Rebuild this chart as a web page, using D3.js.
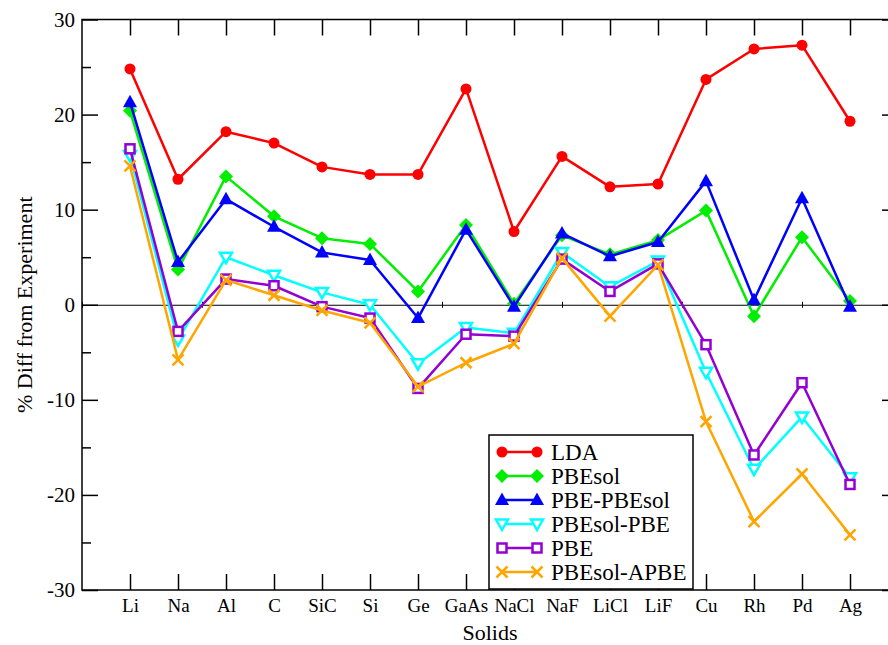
<!DOCTYPE html>
<html>
<head>
<meta charset="utf-8">
<script src="https://cdn.jsdelivr.net/npm/d3@7"></script>
<style>
  body { margin: 0; background: #fff; }
  text { font-family: "Liberation Serif", "Times New Roman", serif; }
</style>
</head>
<body>
<div id="chart"></div>
<script>
var solids = ['Li','Na','Al','C','SiC','Si','Ge','GaAs','NaCl','NaF','LiCl','LiF','Cu','Rh','Pd','Ag'];

var lda       = [24.8, 13.2, 18.2, 17.0, 14.5, 13.7, 13.7, 22.7, 7.7, 15.6, 12.4, 12.7, 23.7, 26.9, 27.3, 19.3];
var pbesol    = [20.4, 3.7, 13.5, 9.3, 7.0, 6.4, 1.4, 8.4, 0.1, 7.3, 5.3, 6.8, 9.9, -1.2, 7.1, 0.4];
var pbePbesol = [21.3, 4.5, 11.1, 8.2, 5.5, 4.7, -1.4, 7.9, -0.2, 7.5, 5.1, 6.6, 13.0, 0.5, 11.2, -0.2];
var pbesolPbe = [15.7, -3.7, 5.0, 3.1, 1.3, 0.0, -6.2, -2.4, -3.0, 5.5, 1.9, 4.6, -7.1, -17.3, -11.8, -18.2];
var pbe       = [16.4, -2.8, 2.7, 2.0, -0.2, -1.4, -8.8, -3.1, -3.3, 4.8, 1.4, 4.3, -4.2, -15.8, -8.2, -18.9];
var pbesolApbe= [14.6, -5.8, 2.6, 1.0, -0.6, -1.9, -8.6, -6.1, -4.1, 4.9, -1.2, 4.2, -12.3, -22.8, -17.8, -24.2];

var seriesNames = ['LDA','PBEsol','PBE-PBEsol','PBEsol-PBE','PBE','PBEsol-APBE'];
var seriesData = [lda, pbesol, pbePbesol, pbesolPbe, pbe, pbesolApbe];
var colors = ['#ff0000','#00ee00','#0000ff','#00ffff','#9400d3','#ffa500'];
var markers = ['circle','diamond','triup','tridown','square','cross'];

var yTicks = [-30,-20,-10,0,10,20,30];
var yMinor = [-25,-15,-5,5,15,25];

var width = 888, height = 645;

var xScale = d3.scaleLinear().domain([-1, 16]).range([82, 898]);
var yScale = d3.scaleLinear().domain([-30, 30]).range([590, 19.5]);

var svg = d3.select('#chart').append('svg')
    .attr('width', width)
    .attr('height', height)
    .style('background', '#fff');

// frame
svg.append('rect')
    .attr('x', xScale(-1)).attr('y', yScale(30))
    .attr('width', xScale(16) - xScale(-1))
    .attr('height', yScale(-30) - yScale(30))
    .attr('fill', 'none').attr('stroke', '#000').attr('stroke-width', 1.5);

// zero line with its small ticks
var zeroAxis = svg.append('g')
    .attr('transform', 'translate(0,' + yScale(0) + ')')
    .call(d3.axisBottom(xScale).tickValues(d3.range(-1, 16.1, 2.5)).tickSize(3).tickFormat(''));
zeroAxis.select('.domain').attr('stroke-width', 1.2);
zeroAxis.selectAll('.tick line').attr('y1', -3).attr('y2', 3);

// bottom axis
var xAxis = svg.append('g')
    .attr('transform', 'translate(0,' + yScale(-30) + ')')
    .call(d3.axisBottom(xScale).tickValues(d3.range(solids.length))
      .tickFormat(function(i){ return solids[i]; })
      .tickSize(-16).tickPadding(9));
xAxis.select('.domain').remove();
xAxis.selectAll('.tick line').attr('stroke-width', 1.5);
xAxis.selectAll('text').style('font-size', '19px').attr('fill', '#000');

// top axis
var topAxis = svg.append('g')
    .attr('transform', 'translate(0,' + yScale(30) + ')')
    .call(d3.axisTop(xScale).tickValues(d3.range(solids.length)).tickSize(-16).tickFormat(''));
topAxis.select('.domain').remove();
topAxis.selectAll('.tick line').attr('stroke-width', 1.5);

// left axis (plain hyphen for negatives, like the original)
var yAxis = svg.append('g')
    .attr('transform', 'translate(' + xScale(-1) + ',0)')
    .call(d3.axisLeft(yScale).tickValues(yTicks).tickSize(-16).tickPadding(7)
      .tickFormat(function(d){ return String(d); }));
yAxis.select('.domain').remove();
yAxis.selectAll('.tick line').attr('stroke-width', 1.5);
yAxis.selectAll('text').style('font-size', '21px').attr('fill', '#000');

var yAxisMinor = svg.append('g')
    .attr('transform', 'translate(' + xScale(-1) + ',0)')
    .call(d3.axisLeft(yScale).tickValues(yMinor).tickSize(-9).tickFormat(''));
yAxisMinor.select('.domain').remove();
yAxisMinor.selectAll('.tick line').attr('stroke-width', 1.5);

// right axis (mostly off the picture)
var rAxis = svg.append('g')
    .attr('transform', 'translate(' + xScale(16) + ',0)')
    .call(d3.axisRight(yScale).tickValues(yTicks).tickSize(-16).tickFormat(''));
rAxis.select('.domain').remove();
rAxis.selectAll('.tick line').attr('stroke-width', 1.5);

// axis titles
svg.append('text')
    .attr('text-anchor', 'middle')
    .attr('transform', 'translate(32,' + yScale(0) + ')rotate(-90)')
    .style('font-size', '22px')
    .text('% Diff from Experiment');

svg.append('text')
    .attr('text-anchor', 'middle')
    .attr('x', 490).attr('y', 640)
    .style('font-size', '22px')
    .text('Solids');

function drawMarker(g, type, color, cx, cy) {
  if (type == 'circle') {
    g.append('circle').attr('cx', cx).attr('cy', cy).attr('r', 5.5).attr('fill', color);
  } else if (type == 'diamond') {
    g.append('path').attr('d', 'M' + cx + ',' + (cy - 7) + 'L' + (cx + 7) + ',' + cy + 'L' + cx + ',' + (cy + 7) + 'L' + (cx - 7) + ',' + cy + 'Z')
      .attr('fill', color);
  } else if (type == 'triup') {
    g.append('path').attr('d', 'M' + cx + ',' + (cy - 7.5) + 'L' + (cx + 7) + ',' + (cy + 5) + 'L' + (cx - 7) + ',' + (cy + 5) + 'Z')
      .attr('fill', color);
  } else if (type == 'tridown') {
    g.append('path').attr('d', 'M' + cx + ',' + (cy + 6) + 'L' + (cx + 6) + ',' + (cy - 4.5) + 'L' + (cx - 6) + ',' + (cy - 4.5) + 'Z')
      .attr('fill', '#fff').attr('stroke', color).attr('stroke-width', 2.5);
  } else if (type == 'square') {
    g.append('rect').attr('x', cx - 4.5).attr('y', cy - 4.5).attr('width', 9).attr('height', 9)
      .attr('fill', '#fff').attr('stroke', color).attr('stroke-width', 2.5);
  } else if (type == 'cross') {
    g.append('path').attr('d', 'M' + (cx - 5.5) + ',' + (cy - 5.5) + 'L' + (cx + 5.5) + ',' + (cy + 5.5) + 'M' + (cx + 5.5) + ',' + (cy - 5.5) + 'L' + (cx - 5.5) + ',' + (cy + 5.5))
      .attr('stroke', color).attr('stroke-width', 2.5).attr('fill', 'none');
  }
}

var line = d3.line()
    .x(function(d, i) { return xScale(i); })
    .y(function(d) { return yScale(d); });

seriesData.forEach(function(vals, k) {
  var g = svg.append('g');
  g.append('path')
    .datum(vals)
    .attr('d', line)
    .attr('fill', 'none')
    .attr('stroke', colors[k])
    .attr('stroke-width', 2.5)
    .attr('stroke-linejoin', 'round');
  vals.forEach(function(v, i) {
    drawMarker(g, markers[k], colors[k], xScale(i), yScale(v));
  });
});

// legend
var legend = svg.append('g');
legend.append('rect')
    .attr('x', 489).attr('y', 435).attr('width', 204).attr('height', 154)
    .attr('fill', '#fff').attr('stroke', '#000').attr('stroke-width', 1.5);

seriesNames.forEach(function(name, k) {
  var ly = 452 + k * 24;
  legend.append('line')
    .attr('x1', 502).attr('x2', 537).attr('y1', ly).attr('y2', ly)
    .attr('stroke', colors[k]).attr('stroke-width', 2.5);
  drawMarker(legend, markers[k], colors[k], 502, ly);
  drawMarker(legend, markers[k], colors[k], 537, ly);
  legend.append('text')
    .attr('x', 551).attr('y', ly + 8)
    .style('font-size', '23px')
    .text(name);
});
</script>
</body>
</html>
